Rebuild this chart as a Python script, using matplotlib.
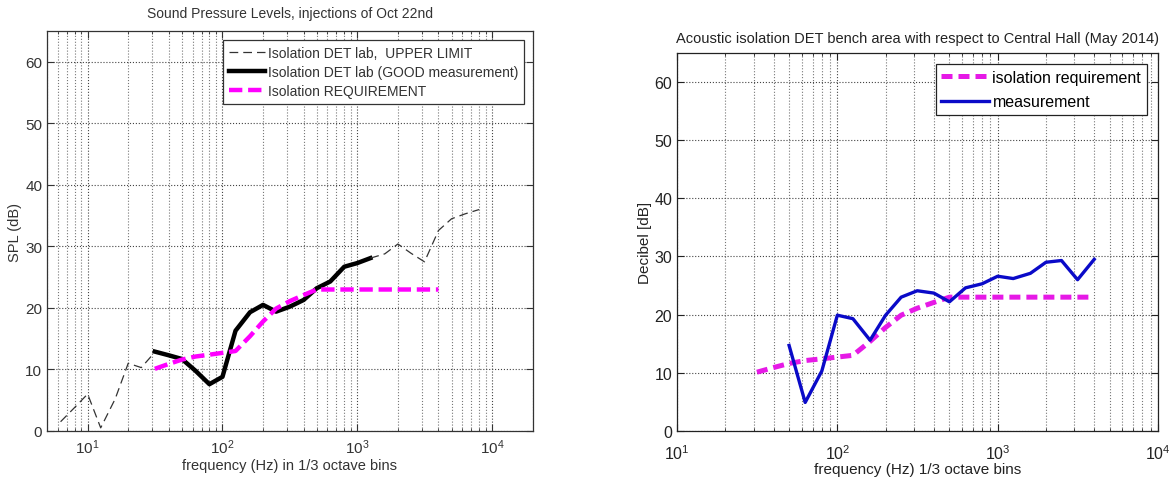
import numpy as np
import matplotlib
matplotlib.use("Agg")
import matplotlib.pyplot as plt
from matplotlib.ticker import LogLocator, FixedLocator

plt.rcParams['font.family'] = ['Liberation Sans', 'DejaVu Sans']

# left chart: upper limit (thin dashed), good measurement, requirement
upper_freq = [6.3, 8, 10, 12.5, 16, 20, 25, 31.5]
upper_spl = [1.5, 3.8, 6.0, 0.5, 5.2, 11.0, 10.3, 12.8]
upper_hi_freq = [1250, 1600, 2000, 2500, 3150, 4000, 5000, 6300, 8000]
upper_hi_spl = [28.1, 28.8, 30.4, 28.9, 27.5, 32.6, 34.5, 35.3, 36.0]

good_freq = [31.5, 40, 50, 63, 80, 100, 125, 160, 200, 250, 315, 400, 500, 630, 800, 1000, 1250]
good_spl = [12.9, 12.3, 11.7, 9.8, 7.6, 8.8, 16.3, 19.3, 20.5, 19.4, 20.2, 21.3, 23.2, 24.3, 26.7, 27.3, 28.1]

req_freq = [31.5, 40, 50, 63, 80, 100, 125, 160, 200, 250, 315, 400, 500, 630, 800,
            1000, 1250, 1600, 2000, 2500, 3150, 4000]
req_db = [10.1, 10.9, 11.6, 12.1, 12.4, 12.7, 13.0, 15.4, 17.8, 19.9, 21.1, 22.1, 23.0, 23.0, 23.0,
          23.0, 23.0, 23.0, 23.0, 23.0, 23.0, 23.0]

# right chart: measurement
meas_freq = [50, 63, 80, 100, 125, 160, 200, 250, 315, 400, 500, 630, 800, 1000, 1250,
             1600, 2000, 2500, 3150, 4000]
meas_db = [14.7, 4.9, 10.3, 19.9, 19.3, 15.6, 19.9, 23.0, 24.1, 23.7, 22.2, 24.6, 25.3, 26.6, 26.2,
           27.1, 29.0, 29.3, 26.0, 29.5]

yticks = [0, 10, 20, 30, 40, 50, 60]


def matlab_axes(ax, xlim, color, size, xpad):
    ax.set_xscale('log')
    ax.set_xlim(*xlim)
    ax.set_ylim(0, 65)
    ax.yaxis.set_major_locator(FixedLocator(yticks))
    ax.xaxis.set_major_locator(LogLocator(base=10, numticks=10))
    ax.xaxis.set_minor_locator(LogLocator(base=10, subs=np.arange(2, 10), numticks=10))
    ax.grid(True, which='major', linestyle=':', color='#444444', linewidth=0.8)
    ax.grid(True, which='minor', axis='x', linestyle=':', color='#777777', linewidth=0.8)
    ax.tick_params(which='both', direction='in', top=True, right=True, colors=color,
                   labelsize=size)
    ax.tick_params(which='major', length=5)
    ax.tick_params(which='minor', length=2.5)
    ax.tick_params(axis='x', which='major', pad=xpad)
    for s in ax.spines.values():
        s.set_color(color)
        s.set_linewidth(0.9)


fig = plt.figure(figsize=(11.76, 4.81), dpi=100)

ax1 = fig.add_axes([0.040, 0.102, 0.413, 0.831])
matlab_axes(ax1, (5, 20000), '#333333', 11, 5)
ax1.plot(upper_freq, upper_spl, color='#333333', linestyle=(0, (7, 4)), linewidth=0.9,
         label='Isolation DET lab,  UPPER LIMIT')
ax1.plot(good_freq, good_spl, color='black', linewidth=3.2,
         label='Isolation DET lab (GOOD measurement)')
ax1.plot(req_freq, req_db, color='#ff00ff', linestyle=(0, (3, 1.3)), linewidth=3.2,
         label='Isolation REQUIREMENT')
ax1.plot(upper_hi_freq, upper_hi_spl, color='#333333', linestyle=(0, (7, 4)), linewidth=0.9)
ax1.set_title('Sound Pressure Levels, injections of Oct 22nd', fontsize=10, color='#333333', pad=10)
ax1.set_xlabel('frequency (Hz) in 1/3 octave bins', fontsize=10.5, color='#333333', labelpad=1)
ax1.set_ylabel('SPL (dB)', fontsize=10.5, color='#333333', labelpad=2)
leg1 = ax1.legend(loc='upper right', fontsize=10, fancybox=False, edgecolor='#333333',
                  handlelength=2.6, handletextpad=0.2, borderpad=0.45, labelspacing=0.35,
                  borderaxespad=0.6, framealpha=1)
leg1.get_frame().set_linewidth(0.9)
for t in leg1.get_texts():
    t.set_color('#333333')

ax2 = fig.add_axes([0.5757, 0.102, 0.409, 0.786])
matlab_axes(ax2, (10, 10000), '#222222', 11.5, 9)
ax2.plot(req_freq, req_db, color='#e619e6', linestyle=(0, (2.2, 1.2)), linewidth=3.6,
         label='isolation requirement')
ax2.plot(meas_freq, meas_db, color='#0a0ac8', linewidth=2.4, label='measurement')
ax2.set_title('Acoustic isolation DET bench area with respect to Central Hall (May 2014)',
              fontsize=10.5, color='#222222', pad=8)
ax2.set_xlabel('frequency (Hz) 1/3 octave bins', fontsize=11, color='#222222', labelpad=0)
ax2.set_ylabel('Decibel [dB]', fontsize=11, color='#222222', labelpad=2)
leg2 = ax2.legend(loc='upper right', fontsize=11.5, fancybox=False, edgecolor='#222222',
                  handlelength=3.0, handletextpad=0.2, borderpad=0.35, labelspacing=0.6,
                  borderaxespad=0.7, framealpha=1)
leg2.get_frame().set_linewidth(0.9)

fig.savefig('out.png', dpi=100)
